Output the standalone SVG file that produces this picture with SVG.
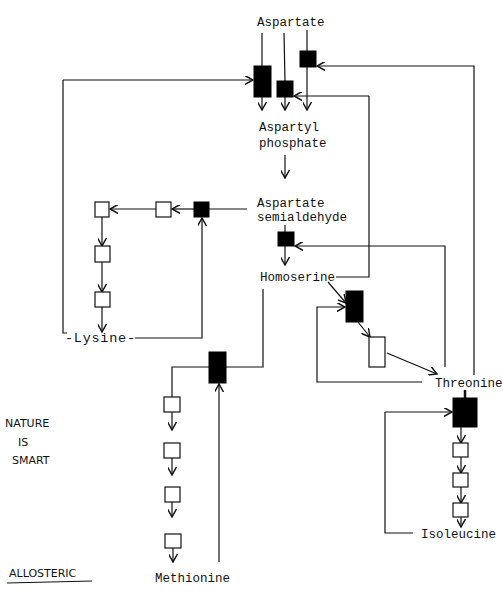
<svg xmlns="http://www.w3.org/2000/svg" width="503" height="600" viewBox="0 0 503 600">
<style>
.lbl{font-family:"Liberation Mono","DejaVu Sans Mono",monospace;font-size:12.5px;fill:#111}
.hand{font-family:"DejaVu Sans",sans-serif;font-size:11px;fill:#111}
.c{fill:none;stroke:#111;stroke-width:1.2}
.a{fill:none;stroke:#111;stroke-width:1.2;marker-end:url(#ah)}
.blk{fill:#000;stroke:#000;stroke-width:1}
.wht{fill:#fff;stroke:#111;stroke-width:1.2}
</style>
<defs>
<marker id="ah" viewBox="0 0 10 10" refX="9" refY="5" markerWidth="9" markerHeight="9" markerUnits="userSpaceOnUse" orient="auto">
<path d="M0,0 L9,5 L0,10" fill="none" stroke="#111" stroke-width="1.6"/>
</marker>
</defs>
<rect width="503" height="600" fill="#fff"/>
<g id="connectors">
<path class="c" d="M262,33 L262,66"/>
<path class="c" d="M284,33 L285,81"/>
<path class="a" d="M307,30 L307,110"/>
<path class="a" d="M262,97 L262,110"/>
<path class="a" d="M285,97 L285,110"/>
<path class="a" d="M474,375 L474,66 L317,66"/>
<path class="c" d="M336,277 L369,277 L369,96"/>
<path class="a" d="M369,96 L294,96"/>
<path class="c" d="M67,333 L63,333 L63,80"/>
<path class="a" d="M63,80 L253,80"/>
<path class="a" d="M285,155 L285,178"/>
<path class="c" d="M285,225 L285,232"/>
<path class="a" d="M285,246 L285,265"/>
<path class="a" d="M445,367 L445,246 L295,246"/>
<path class="c" d="M247,209 L209,209"/>
<path class="a" d="M194,209 L172,209"/>
<path class="a" d="M156,209 L110,209"/>
<path class="a" d="M102,217 L102,246"/>
<path class="a" d="M102,262 L102,292"/>
<path class="a" d="M102,307 L102,332"/>
<path class="a" d="M135,338 L202,338 L202,218"/>
<path class="a" d="M328,282 L346,303"/>
<path class="a" d="M358,322 L370,337"/>
<path class="a" d="M387,353 L437,374"/>
<path class="a" d="M422,382 L317,382 L317,307 L345,307"/>
<path class="c" d="M263,289 L263,367 L226,367"/>
<path class="c" d="M209,367 L172,367 L172,397"/>
<path class="a" d="M172,412 L172,430"/>
<path class="a" d="M172,458 L172,475"/>
<path class="a" d="M172,502 L172,517"/>
<path class="a" d="M173,548 L173,562"/>
<path class="a" d="M219,562 L219,384"/>
<path class="c" d="M465,390 L465,398" style="stroke-width:2.5"/>
<path class="a" d="M461,427 L461,443"/>
<path class="a" d="M461,457 L461,473"/>
<path class="a" d="M461,487 L461,503"/>
<path class="a" d="M461,517 L461,527"/>
<path class="c" d="M413,533 L385,533 L385,412"/>
<path class="a" d="M385,412 L452,412"/>
</g>
<g id="enzyme-ak1"><rect class="blk" x="254" y="66" width="17" height="31"/></g>
<g id="enzyme-ak2"><rect class="blk" x="277" y="81" width="16" height="16"/></g>
<g id="enzyme-ak3"><rect class="blk" x="300" y="51" width="16" height="16"/></g>
<g id="enzyme-hsd"><rect class="blk" x="278" y="232" width="16" height="14"/></g>
<g id="enzyme-lys1"><rect class="blk" x="194" y="202" width="15" height="15"/></g>
<g id="enzyme-lys2"><rect class="wht" x="156" y="202" width="15" height="15"/></g>
<g id="enzyme-lys3"><rect class="wht" x="95" y="202" width="14" height="15"/></g>
<g id="enzyme-lys4"><rect class="wht" x="95" y="246" width="15" height="16"/></g>
<g id="enzyme-lys5"><rect class="wht" x="95" y="292" width="15" height="15"/></g>
<g id="enzyme-thr1"><rect class="blk" x="346" y="291" width="17" height="31"/></g>
<g id="enzyme-thr2"><rect class="wht" x="369" y="337" width="16" height="30"/></g>
<g id="enzyme-met1"><rect class="blk" x="209" y="352" width="17" height="31"/></g>
<g id="enzyme-met2"><rect class="wht" x="164" y="397" width="16" height="15"/></g>
<g id="enzyme-met3"><rect class="wht" x="164" y="443" width="16" height="15"/></g>
<g id="enzyme-met4"><rect class="wht" x="165" y="487" width="15" height="15"/></g>
<g id="enzyme-met5"><rect class="wht" x="165" y="534" width="16" height="14"/></g>
<g id="enzyme-ile1"><rect class="blk" x="453" y="398" width="24" height="29"/></g>
<g id="enzyme-ile2"><rect class="wht" x="453" y="443" width="15" height="14"/></g>
<g id="enzyme-ile3"><rect class="wht" x="453" y="473" width="15" height="14"/></g>
<g id="enzyme-ile4"><rect class="wht" x="453" y="503" width="15" height="14"/></g>
<g id="aspartate"><text class="lbl" x="257" y="26">Aspartate</text></g>
<g id="aspartyl-phosphate"><text class="lbl" x="259" y="131">Aspartyl</text><text class="lbl" x="259" y="147">phosphate</text></g>
<g id="aspartate-semialdehyde"><text class="lbl" x="257" y="207">Aspartate</text><text class="lbl" x="257" y="221">semialdehyde</text></g>
<g id="homoserine"><text class="lbl" x="260" y="281">Homoserine</text></g>
<g id="lysine"><text class="lbl" x="65" y="342" style="font-size:13.5px" textLength="70" lengthAdjust="spacing">-Lysine-</text></g>
<g id="threonine"><text class="lbl" x="435" y="387">Threonine</text></g>
<g id="isoleucine"><text class="lbl" x="421" y="538">Isoleucine</text></g>
<g id="methionine"><text class="lbl" x="155" y="582">Methionine</text></g>
<g id="notes">
<text class="hand" x="5" y="427">NATURE</text>
<text class="hand" x="18" y="446">IS</text>
<text class="hand" x="12" y="464">SMART</text>
<text class="hand" x="9" y="577">ALLOSTERIC</text>
<path class="c" d="M7,583 L92,581"/>
</g>
</svg>
